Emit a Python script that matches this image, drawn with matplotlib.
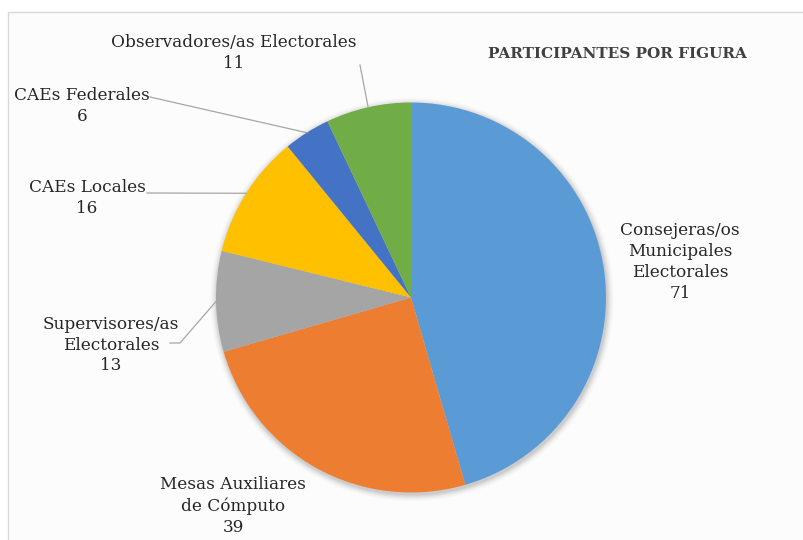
import matplotlib
matplotlib.use("Agg")
import matplotlib.pyplot as plt
from matplotlib.patches import Rectangle, Circle
import numpy as np

categories = ["Consejeras/os\nMunicipales\nElectorales", "Mesas Auxiliares\nde Cómputo",
              "Supervisores/as\nElectorales", "CAEs Locales", "CAEs Federales",
              "Observadores/as Electorales"]
values = [71, 39, 13, 16, 6, 11]
colors = ["#5B9BD5", "#ED7D31", "#A5A5A5", "#FFC000", "#4472C4", "#70AD47"]
title = "PARTICIPANTES POR FIGURA"

W, H = 804, 540
fig = plt.figure(figsize=(W / 100, H / 100), dpi=100)
fig.patch.set_facecolor("white")
ax = fig.add_axes([0, 0, 1, 1])

def Y(y):  # pixel-from-top to data y
    return H - y

# chart area frame
ax.add_patch(Rectangle((8.5, -20), W + 20, Y(11.5) + 20, facecolor="#FCFCFC",
                       edgecolor="#D9D9D9", lw=1, zorder=0))

cx, cy, r = 411, Y(297.5), 195
# soft shadow
for i, a in enumerate(np.linspace(0.05, 0.01, 6)):
    ax.add_patch(Circle((cx + 1, cy - 2), r + 1 + i * 1.2, facecolor="black",
                        alpha=a, lw=0, zorder=1))

wedges, _ = ax.pie(values, colors=colors, startangle=90, counterclock=False,
                   center=(cx, cy), radius=r, frame=True,
                   wedgeprops=dict(lw=0, zorder=2))
ax.set_xlim(0, W)
ax.set_ylim(0, H)
ax.set_aspect("equal")
ax.axis("off")

font = dict(family="DejaVu Serif", fontsize=12.2, color="#262626")
# label layout: (x, y-from-top) centre of text block
label_pos = [(680, 262), (233, 506), (111, 345), (87, 198), (82, 106), (234, 53)]
for cat, val, (lx, ly) in zip(categories, values, label_pos):
    ax.text(lx, Y(ly), f"{cat}\n{val}", ha="center", va="center",
            linespacing=1.3, zorder=5, **font)

def edge_point(w, frac):
    ang = np.deg2rad(w.theta1 + frac * (w.theta2 - w.theta1))
    return cx + r * np.cos(ang), cy + r * np.sin(ang)

lc = "#A6A6A6"
# Observadores
px, py = edge_point(wedges[5], 0.5)
ax.plot([360, px], [Y(65), py], color=lc, lw=0.9, zorder=4)
# CAEs Federales
px, py = edge_point(wedges[4], 0.5)
ax.plot([150, px], [Y(97), py], color=lc, lw=0.9, zorder=4)
# CAEs Locales
px, py = edge_point(wedges[3], 0.5)
ax.plot([147, px], [Y(193), py], color=lc, lw=0.9, zorder=4)
# Supervisores
px, py = edge_point(wedges[2], 0.5)
ax.plot([170, 180, px], [Y(343), Y(343), py], color=lc, lw=0.9, zorder=4)

ax.text(617, Y(54), title, ha="center", va="center", family="DejaVu Serif",
        fontsize=11, fontweight="bold", color="#404040", zorder=5)

fig.savefig("out.png", dpi=100, facecolor="white")
